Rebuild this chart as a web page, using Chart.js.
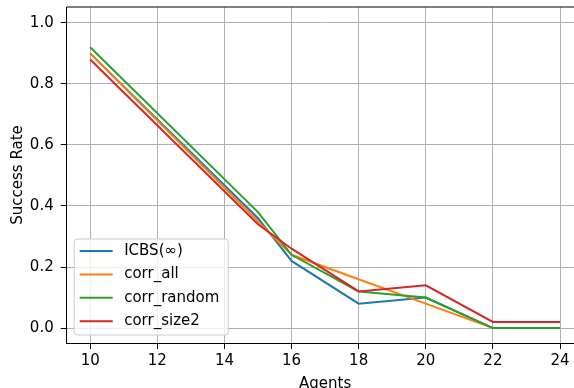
<!DOCTYPE html>
<html>
<head>
<meta charset="utf-8">
<script src="https://cdn.jsdelivr.net/npm/chart.js@4"></script>
<style>
  html, body { margin: 0; padding: 0; background: #fff; overflow: hidden; }
  #wrap { width: 600px; height: 400px; }
</style>
</head>
<body>
<div id="wrap"><canvas id="lineChart" width="600" height="400"></canvas></div>
<script>
    // values
    var agents = [10, 15, 16, 18, 20, 22, 24];
    var icbs = [0.90, 0.36, 0.22, 0.08, 0.10, 0.00, 0.00];
    var corrAll = [0.90, 0.35, 0.24, 0.16, 0.08, 0.00, 0.00];
    var corrRandom = [0.92, 0.38, 0.24, 0.12, 0.10, 0.00, 0.00];
    var corrSize2 = [0.88, 0.34, 0.26, 0.12, 0.14, 0.02, 0.02];

    var seriesNames = ['ICBS(\u221e)', 'corr_all', 'corr_random', 'corr_size2'];
    var seriesColors = ['#1f77b4', '#ff7f0e', '#2ca02c', '#d62728'];
    var xTicks = [10, 12, 14, 16, 18, 20, 22, 24];
    var yTicks = [0.0, 0.2, 0.4, 0.6, 0.8, 1.0];

    var fontFamily = '"DejaVu Sans", sans-serif';

    function points(ys) {
        return agents.map(function (x, i) { return { x: x, y: ys[i] }; });
    }

    var allSeries = [icbs, corrAll, corrRandom, corrSize2];
    var datasets = allSeries.map(function (ys, i) {
        return {
            label: seriesNames[i],
            data: points(ys),
            borderColor: seriesColors[i],
            backgroundColor: seriesColors[i],
            borderWidth: 2,
            pointRadius: 0,
            tension: 0,
            fill: false,
            order: 4 - i // later series drawn on top, like matplotlib
        };
    });

    // top / right spines
    var spines = {
        id: 'spines',
        afterDatasetsDraw: function (chart) {
            var a = chart.chartArea, c = chart.ctx;
            c.save();
            c.strokeStyle = '#000';
            c.lineWidth = 1;
            c.beginPath();
            c.moveTo(a.left, a.top);
            c.lineTo(a.right, a.top);
            c.lineTo(a.right, a.bottom);
            c.stroke();
            c.restore();
        }
    };

    // matplotlib-style legend box in the lower left
    var boxLegend = {
        id: 'boxLegend',
        afterDraw: function (chart) {
            var a = chart.chartArea, c = chart.ctx;
            var x0 = a.left + 7.5, y1 = a.bottom - 8;
            var w = 154, h = 96, y0 = y1 - h, r = 3;
            c.save();
            c.beginPath();
            c.moveTo(x0 + r, y0);
            c.lineTo(x0 + w - r, y0);
            c.arcTo(x0 + w, y0, x0 + w, y0 + r, r);
            c.lineTo(x0 + w, y0 + h - r);
            c.arcTo(x0 + w, y0 + h, x0 + w - r, y0 + h, r);
            c.lineTo(x0 + r, y0 + h);
            c.arcTo(x0, y0 + h, x0, y0 + h - r, r);
            c.lineTo(x0, y0 + r);
            c.arcTo(x0, y0, x0 + r, y0, r);
            c.closePath();
            c.fillStyle = 'rgba(255,255,255,0.8)';
            c.fill();
            c.strokeStyle = '#cccccc';
            c.lineWidth = 1;
            c.stroke();
            c.font = '15px ' + fontFamily;
            c.textBaseline = 'middle';
            c.fillStyle = '#000';
            seriesNames.forEach(function (name, i) {
                var yy = y0 + 12 + i * 23.4;
                c.strokeStyle = seriesColors[i];
                c.lineWidth = 2;
                c.beginPath();
                c.moveTo(x0 + 5.5, yy);
                c.lineTo(x0 + 38.5, yy);
                c.stroke();
                c.fillText(name, x0 + 50, yy);
            });
            c.restore();
        }
    };

    var ctx = document.getElementById('lineChart').getContext('2d');
    var myChart = new Chart(ctx, {
        type: 'line',
        data: { datasets: datasets },
        options: {
            responsive: false,
            animation: false,
            devicePixelRatio: 1,
            layout: { padding: { top: 7, right: 16.5, left: 0, bottom: 0 } },
            plugins: {
                legend: { display: false },
                tooltip: { enabled: false }
            },
            scales: {
                x: {
                    type: 'linear',
                    min: 9.3,
                    max: 24.7,
                    afterBuildTicks: function (s) {
                        s.ticks = xTicks.map(function (v) { return { value: v }; });
                    },
                    afterFit: function (s) {
                        s.height = 57;
                        s.paddingLeft = 0;
                        s.paddingRight = 0;
                    },
                    ticks: {
                        color: '#000',
                        padding: 3,
                        maxRotation: 0,
                        autoSkip: false,
                        font: { family: fontFamily, size: 15 },
                        callback: function (v) { return String(v); }
                    },
                    grid: { color: '#b0b0b0', lineWidth: 1, tickColor: '#000', tickLength: 6 },
                    border: { color: '#000', width: 1 },
                    title: {
                        display: true,
                        text: 'Agents',
                        color: '#000',
                        font: { family: fontFamily, size: 15 },
                        padding: { top: 0, bottom: 7 }
                    }
                },
                y: {
                    min: -0.049,
                    max: 1.052,
                    afterBuildTicks: function (s) {
                        s.ticks = yTicks.map(function (v) { return { value: v }; });
                    },
                    afterFit: function (s) {
                        s.width = 66.7;
                        s.paddingTop = 0;
                        s.paddingBottom = 0;
                    },
                    ticks: {
                        color: '#000',
                        padding: 7,
                        font: { family: fontFamily, size: 15 },
                        callback: function (v) { return Number(v).toFixed(1); }
                    },
                    grid: { color: '#b0b0b0', lineWidth: 1, tickColor: '#000', tickLength: 6 },
                    border: { color: '#000', width: 1 },
                    title: {
                        display: true,
                        text: 'Success Rate',
                        color: '#000',
                        font: { family: fontFamily, size: 15 },
                        padding: { top: 9, bottom: 0 }
                    }
                }
            }
        },
        plugins: [spines, boxLegend]
    });
</script>
</body>
</html>
